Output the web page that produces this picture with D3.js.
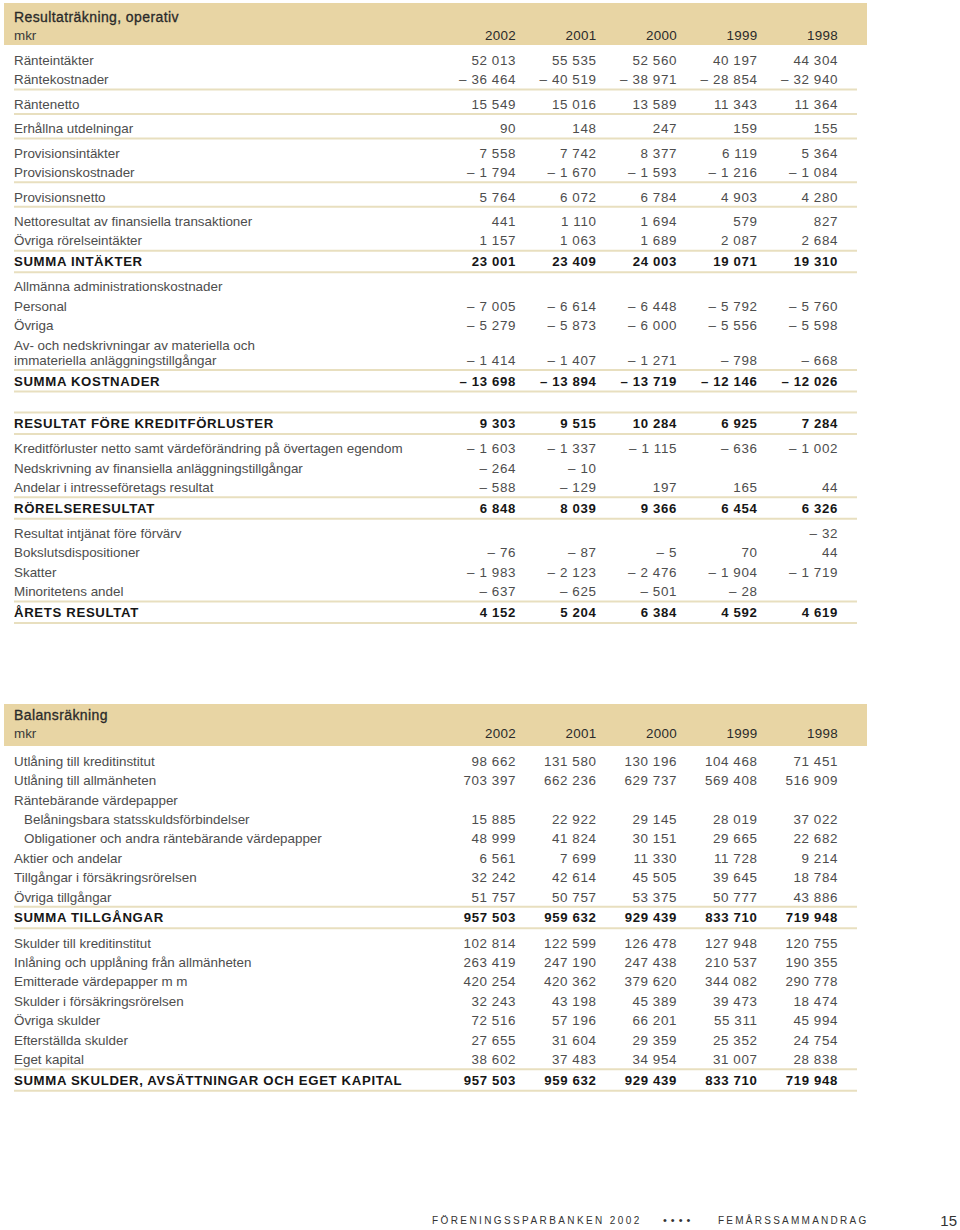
<!DOCTYPE html>
<html>
<head>
<meta charset="utf-8">
<script src="https://cdn.jsdelivr.net/npm/d3@7"></script>
<style>
  body { margin: 0; background: #fff; }
  svg { display: block; font-family: "Liberation Sans", Arial, Helvetica, sans-serif; }
</style>
</head>
<body>
<svg id="vis"></svg>
<script>
const WIDTH = 960;
const HEIGHT = 1230;

const years = ["2002", "2001", "2000", "1999", "1998"];

// Resultaträkning, operativ
const resLabels = [
  "Ränteintäkter", "Räntekostnader",
  "Räntenetto",
  "Erhållna utdelningar",
  "Provisionsintäkter", "Provisionskostnader",
  "Provisionsnetto",
  "Nettoresultat av finansiella transaktioner", "Övriga rörelseintäkter",
  "SUMMA INTÄKTER",
  "Allmänna administrationskostnader", "Personal", "Övriga",
  "Av- och nedskrivningar av materiella och\nimmateriella anläggningstillgångar",
  "SUMMA KOSTNADER",
  "RESULTAT FÖRE KREDITFÖRLUSTER",
  "Kreditförluster netto samt värdeförändring på övertagen egendom",
  "Nedskrivning av finansiella anläggningstillgångar",
  "Andelar i intresseföretags resultat",
  "RÖRELSERESULTAT",
  "Resultat intjänat före förvärv", "Bokslutsdispositioner", "Skatter", "Minoritetens andel",
  "ÅRETS RESULTAT"
];
const res2002 = [52013, -36464, 15549, 90, 7558, -1794, 5764, 441, 1157, 23001, null, -7005, -5279, -1414, -13698, 9303, -1603, -264, -588, 6848, null, -76, -1983, -637, 4152];
const res2001 = [55535, -40519, 15016, 148, 7742, -1670, 6072, 1110, 1063, 23409, null, -6614, -5873, -1407, -13894, 9515, -1337, -10, -129, 8039, null, -87, -2123, -625, 5204];
const res2000 = [52560, -38971, 13589, 247, 8377, -1593, 6784, 1694, 1689, 24003, null, -6448, -6000, -1271, -13719, 10284, -1115, null, 197, 9366, null, -5, -2476, -501, 6384];
const res1999 = [40197, -28854, 11343, 159, 6119, -1216, 4903, 579, 2087, 19071, null, -5792, -5556, -798, -12146, 6925, -636, null, 165, 6454, null, 70, -1904, -28, 4592];
const res1998 = [44304, -32940, 11364, 155, 5364, -1084, 4280, 827, 2684, 19310, null, -5760, -5598, -668, -12026, 7284, -1002, null, 44, 6326, -32, 44, -1719, null, 4619];
const resGroups = [2, 1, 1, 2, 1, 2, 1, 4, 1, 1, 3, 1, 4, 1];
const resGapBefore = 9;

// Balansräkning
const balLabels = [
  "Utlåning till kreditinstitut", "Utlåning till allmänheten", "Räntebärande värdepapper",
  "Belåningsbara statsskuldsförbindelser", "Obligationer och andra räntebärande värdepapper",
  "Aktier och andelar", "Tillgångar i försäkringsrörelsen", "Övriga tillgångar",
  "SUMMA TILLGÅNGAR",
  "Skulder till kreditinstitut", "Inlåning och upplåning från allmänheten", "Emitterade värdepapper m m",
  "Skulder i försäkringsrörelsen", "Övriga skulder", "Efterställda skulder", "Eget kapital",
  "SUMMA SKULDER, AVSÄTTNINGAR OCH EGET KAPITAL"
];
const bal2002 = [98662, 703397, null, 15885, 48999, 6561, 32242, 51757, 957503, 102814, 263419, 420254, 32243, 72516, 27655, 38602, 957503];
const bal2001 = [131580, 662236, null, 22922, 41824, 7699, 42614, 50757, 959632, 122599, 247190, 420362, 43198, 57196, 31604, 37483, 959632];
const bal2000 = [130196, 629737, null, 29145, 30151, 11330, 45505, 53375, 929439, 126478, 247438, 379620, 45389, 66201, 29359, 34954, 929439];
const bal1999 = [104468, 569408, null, 28019, 29665, 11728, 39645, 50777, 833710, 127948, 210537, 344082, 39473, 55311, 25352, 31007, 833710];
const bal1998 = [71451, 516909, null, 37022, 22682, 9214, 18784, 43886, 719948, 120755, 190355, 290778, 18474, 45994, 24754, 28838, 719948];
const balGroups = [8, 1, 7, 1];
const balIndent = [3, 4];

const BAND = "#e8d5a4";
const RULE = "#e8dfbf";
const LEFT = 14, RIGHT = 857;

const locale = d3.formatLocale({ decimal: ",", thousands: " ", grouping: [3], currency: ["", ""] });
const num = locale.format(",d");
const fmt = v => v == null ? "" : (v < 0 ? "– " + num(-v) : num(v));

const col = d3.scalePoint().domain(years).range([516, 838]);

const SVG = d3.select("#vis")
  .attr("width", WIDTH)
  .attr("height", HEIGHT)
  .attr("viewBox", `0 0 ${WIDTH} ${HEIGHT}`);

SVG.append("rect").attr("width", WIDTH).attr("height", HEIGHT).attr("fill", "#fff");

function drawTable(top, headPad, title, labels, series, groups, gapBefore, indent) {
  const g = SVG.append("g");

  // header band
  g.append("rect")
    .attr("x", 4).attr("y", top)
    .attr("width", 863).attr("height", 42)
    .attr("fill", BAND);
  g.append("text")
    .attr("x", LEFT).attr("y", top + headPad).attr("dy", "0.35em")
    .attr("font-size", 14).attr("letter-spacing", 0.4)
    .attr("fill", "#2a2a2a").attr("stroke", "#2a2a2a").attr("stroke-width", 0.3)
    .text(title);
  g.append("text")
    .attr("x", LEFT).attr("y", top + headPad + 18).attr("dy", "0.35em")
    .attr("font-size", 13.4).attr("fill", "#3a3a3a")
    .text("mkr");
  g.selectAll(".yr")
    .data(years)
    .join("text")
    .attr("x", d => col(d)).attr("y", top + headPad + 18).attr("dy", "0.35em")
    .attr("text-anchor", "end")
    .attr("font-size", 13.4).attr("letter-spacing", 0.3).attr("fill", "#2a2a2a")
    .text(d => d);

  // layout rows in groups, rule after each group
  const rows = [];
  const rules = [];
  let i = 0;
  let y = top + 42 + 15;
  let lineY = null;
  groups.forEach((n, gi) => {
    if (gi === gapBefore) {
      lineY += 21;
      rules.push(lineY);
    }
    for (let k = 0; k < n; k++, i++) {
      const label = labels[i];
      const bold = label === label.toUpperCase();
      if (k === 0 && lineY !== null) y = lineY + (bold ? 11 : 14.5);
      const parts = label.split("\n");
      rows.push({ i, label: parts, bold, y, indent: indent.includes(i) });
      const last = y + (parts.length - 1) * 15;
      if (k === n - 1) {
        lineY = last + (bold ? 10.5 : 10);
        rules.push(lineY);
      } else {
        y = last + 19.4;
      }
    }
  });

  g.selectAll(".rule")
    .data(rules)
    .join("line")
    .attr("x1", LEFT).attr("x2", RIGHT)
    .attr("y1", d => d).attr("y2", d => d)
    .attr("stroke", RULE).attr("stroke-width", 2);

  const row = g.selectAll(".row")
    .data(rows)
    .join("g")
    .attr("transform", d => `translate(0,${d.y})`)
    .attr("font-size", d => d.bold ? 13.2 : 13.4)
    .attr("font-weight", d => d.bold ? "bold" : null)
    .attr("letter-spacing", d => d.bold ? 0.65 : null)
    .attr("fill", d => d.bold ? "#161616" : "#4d4d4d");

  row.selectAll(".lbl")
    .data(d => d.label.map((t, j) => ({ t, j, indent: d.indent })))
    .join("text")
    .attr("x", d => d.indent ? LEFT + 10 : LEFT)
    .attr("y", d => d.j * 15)
    .attr("dy", "0.35em")
    .text(d => d.t);

  row.selectAll(".val")
    .data(d => years.map((yr, c) => ({ yr, v: series[c][d.i], off: (d.label.length - 1) * 15, bold: d.bold })))
    .join("text")
    .attr("x", d => col(d.yr))
    .attr("y", d => d.off)
    .attr("dy", "0.35em")
    .attr("text-anchor", "end")
    .attr("letter-spacing", d => d.bold ? 0.65 : 0.6)
    .text(d => fmt(d.v));
}

drawTable(3, 14, "Resultaträkning, operativ", resLabels,
  [res2002, res2001, res2000, res1999, res1998], resGroups, resGapBefore, []);

drawTable(704, 11, "Balansräkning", balLabels,
  [bal2002, bal2001, bal2000, bal1999, bal1998], balGroups, -1, balIndent);

// footer
const foot = SVG.append("g").attr("fill", "#333");
foot.append("text")
  .attr("x", 432).attr("y", 1224)
  .attr("font-size", 10).attr("letter-spacing", 2.4)
  .text("FÖRENINGSSPARBANKEN 2002");
foot.append("text")
  .attr("x", 663).attr("y", 1224)
  .attr("font-size", 11).attr("letter-spacing", 4)
  .text("••••");
foot.append("text")
  .attr("x", 718).attr("y", 1224)
  .attr("font-size", 10).attr("letter-spacing", 2.25)
  .text("FEMÅRSSAMMANDRAG");
foot.append("text")
  .attr("x", 957).attr("y", 1226)
  .attr("text-anchor", "end")
  .attr("font-size", 15)
  .text("15");
</script>
</body>
</html>
